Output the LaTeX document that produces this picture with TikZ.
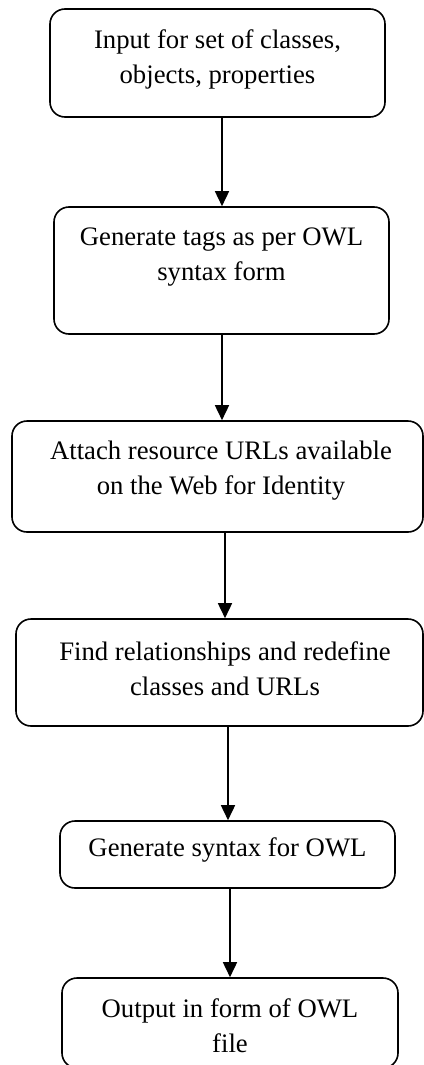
\documentclass[tikz,border=0pt]{standalone}
\usepackage{fontspec}
\setmainfont{Liberation Serif}
\usetikzlibrary{arrows.meta}
\begin{document}
\begin{tikzpicture}[x=1pt,y=-1pt,
  stepbox/.style={draw, line width=1.6pt, rounded corners=15pt, inner sep=0pt},
  steptext/.style={align=center, inner sep=0pt,
    font=\fontsize{26.7}{35}\selectfont},
  flow/.style={line width=1.6pt, -{Triangle[length=15pt,width=14pt]}}]
\useasboundingbox (0,0) rectangle (423,1065);

% boxes: (left,top) to (right,bottom)
\node[stepbox, minimum width=335pt, minimum height=108pt] (b1) at (217.5,63) {};
\node[stepbox, minimum width=335pt, minimum height=127pt] (b2) at (221.5,270.5) {};
\node[stepbox, minimum width=411pt, minimum height=111pt] (b3) at (217.5,476.5) {};
\node[stepbox, minimum width=407pt, minimum height=107pt] (b4) at (219.5,672.5) {};
\node[stepbox, minimum width=335pt, minimum height=67pt] (b5) at (227.5,854.5) {};
\node[stepbox, minimum width=336pt, minimum height=90pt] (b6) at (230,1023) {};

% labels
\node[steptext] (t1) at (217.5,59.5) {Input for set of classes,\\objects, properties};
\node[steptext] (t2) at (221.5,257.5) {Generate tags as per OWL\\syntax form};
\node[steptext] (t3) at (221,470.5) {Attach resource URLs available\\on the Web for Identity};
\node[steptext] (t4) at (225,668.5) {Find relationships and redefine\\classes and URLs};
\node[steptext] (t5) at (227.5,850) {Generate syntax for OWL};
\node[steptext] (t6) at (230,1025.5) {Output in form of OWL\\file};

% connectors
\draw[flow] (b1.south -| 222,0) -- (b2.north -| 222,0);
\draw[flow] (b2.south -| 222,0) -- (b3.north -| 222,0);
\draw[flow] (b3.south -| 225,0) -- (b4.north -| 225,0);
\draw[flow] (b4.south -| 228,0) -- (b5.north -| 228,0);
\draw[flow] (b5.south -| 230,0) -- (b6.north -| 230,0);
\end{tikzpicture}
\end{document}
